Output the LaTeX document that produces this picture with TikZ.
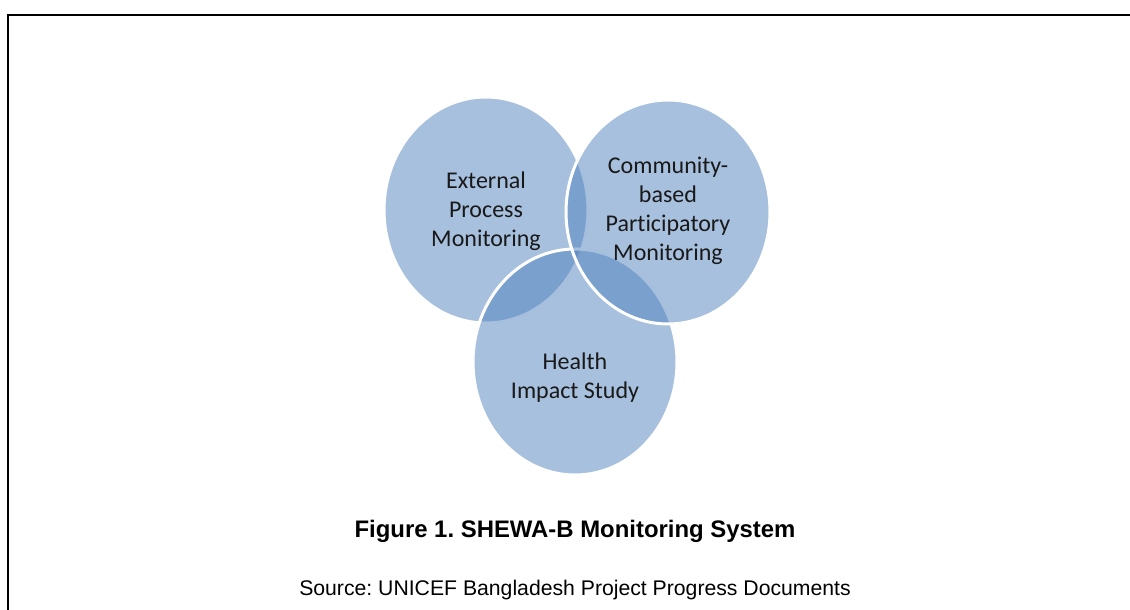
\documentclass[tikz,border=0pt]{standalone}
\usepackage{fontspec}
\setmainfont{Liberation Sans}
\newfontfamily\calib[Ligatures=NoCommon]{Carlito}
\begin{document}
\frenchspacing
\begin{tikzpicture}[x=1pt,y=-1pt,
  venn/.style={fill={rgb,255:red,79;green,129;blue,189},fill opacity=0.5,draw=white,draw opacity=1,line width=3pt},
  vlabel/.style={align=center,text=black!90,font=\calib\fontsize{24}{29}\selectfont},
  frame/.style={line width=2pt,black}]
\useasboundingbox (0,0) rectangle (1130,610);
\draw[frame] (8,610) coordinate (fb) -- (8,15) coordinate (fc) -- (1131,15) coordinate (fr);
\draw[venn] (486,210) ellipse [x radius=102,y radius=113];
\draw[venn] (575,362) ellipse [x radius=102,y radius=113];
\draw[venn] (668,212) ellipse [x radius=102,y radius=112];
\node[vlabel] (ext) at (486,211) {External\\Process\\Monitoring};
\node[vlabel] (com) at (668,211) {Community-\\based\\Participatory\\Monitoring};
\node[vlabel] (hea) at (575,378) {Health\\Impact Study};
\node[font=\bfseries\fontsize{23.9}{28}\selectfont] (cap) at (575,531) {Figure 1. SHEWA-B Monitoring System};
\node[font=\fontsize{21.2}{25}\selectfont] (src) at (575,590) {Source: UNICEF Bangladesh Project Progress Documents};
\end{tikzpicture}
\end{document}
